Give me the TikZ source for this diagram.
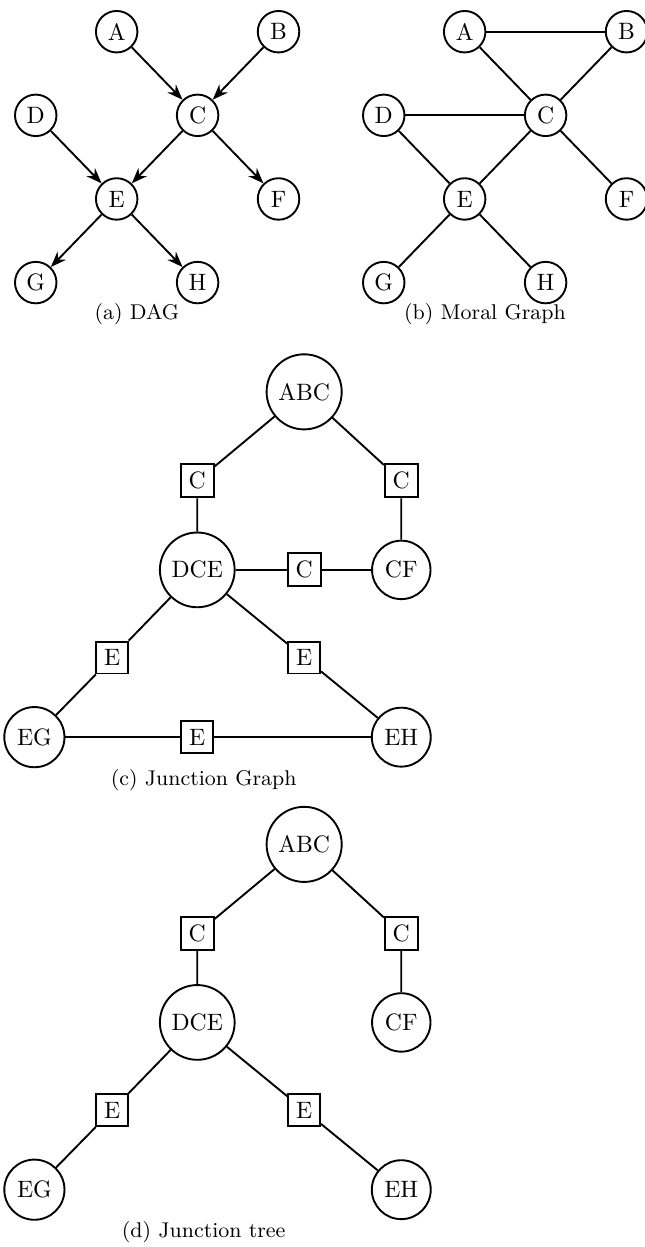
\documentclass[tikz,border=0pt]{standalone}
\usetikzlibrary{arrows.meta}

\begin{document}
\begin{tikzpicture}[thick,
    var/.style={draw,circle,inner sep=1.5pt,minimum size=17.5pt},
    clique/.style={draw,circle},
    sepbox/.style={draw,rectangle},
    subcap/.style={font=\small,anchor=base}]
  \useasboundingbox (0,0) rectangle (9.563,-18.49);

  % (a) DAG
  \node[var] (a) at (1.73,-0.47) {A};
  \node[var] (b) at (4.13,-0.47) {B};
  \node[var] (c) at (2.93,-1.71) {C};
  \node[var] (d) at (0.53,-1.71) {D};
  \node[var] (e) at (1.73,-2.95) {E};
  \node[var] (f) at (4.13,-2.95) {F};
  \node[var] (g) at (0.53,-4.19) {G};
  \node[var] (h) at (2.93,-4.19) {H};
  \draw[-{Stealth}] (a)--(c);
  \draw[-{Stealth}] (b)--(c);
  \draw[-{Stealth}] (d)--(e);
  \draw[-{Stealth}] (c)--(e);
  \draw[-{Stealth}] (c)--(f);
  \draw[-{Stealth}] (e)--(g);
  \draw[-{Stealth}] (e)--(h);
  \node[subcap] (capa) at (2.03,-4.73) {(a) DAG};

  % (b) moral graph
  \node[var] (ma) at (6.89,-0.47) {A};
  \node[var] (mb) at (9.29,-0.47) {B};
  \node[var] (mc) at (8.09,-1.71) {C};
  \node[var] (md) at (5.69,-1.71) {D};
  \node[var] (me) at (6.89,-2.95) {E};
  \node[var] (mf) at (9.29,-2.95) {F};
  \node[var] (mg) at (5.69,-4.19) {G};
  \node[var] (mh) at (8.09,-4.19) {H};
  \draw (ma)--(mb);
  \draw (ma)--(mc);
  \draw (mb)--(mc);
  \draw (md)--(mc);
  \draw (md)--(me);
  \draw (mc)--(me);
  \draw (mc)--(mf);
  \draw (me)--(mg);
  \draw (me)--(mh);
  \node[subcap] (capb) at (7.19,-4.73) {(b) Moral Graph};

  % (c) junction graph
  \node[clique] (jabc) at (4.51,-5.81) {ABC};
  \node[clique] (jdce) at (2.925,-8.45) {DCE};
  \node[clique] (jcf) at (5.95,-8.45) {CF};
  \node[clique] (jeg) at (0.51,-10.93) {EG};
  \node[clique] (jeh) at (5.95,-10.93) {EH};
  \node[sepbox] (jc1) at (2.925,-7.13) {C};
  \node[sepbox] (jc2) at (5.95,-7.13) {C};
  \node[sepbox] (jc3) at (4.51,-8.45) {C};
  \node[sepbox] (je1) at (1.665,-9.75) {E};
  \node[sepbox] (je2) at (4.51,-9.75) {E};
  \node[sepbox] (je3) at (2.925,-10.93) {E};
  \draw (jabc)--(jc1)--(jdce);
  \draw (jabc)--(jc2)--(jcf);
  \draw (jdce)--(jc3)--(jcf);
  \draw (jdce)--(je1)--(jeg);
  \draw (jdce)--(je2)--(jeh);
  \draw (jeg)--(je3)--(jeh);
  \node[subcap] (capc) at (3.02,-11.64) {(c) Junction Graph};

  % (d) junction tree
  \node[clique] (tabc) at (4.51,-12.52) {ABC};
  \node[clique] (tdce) at (2.925,-15.16) {DCE};
  \node[clique] (tcf) at (5.95,-15.16) {CF};
  \node[clique] (teg) at (0.51,-17.64) {EG};
  \node[clique] (teh) at (5.95,-17.64) {EH};
  \node[sepbox] (tc1) at (2.925,-13.84) {C};
  \node[sepbox] (tc2) at (5.95,-13.84) {C};
  \node[sepbox] (te1) at (1.665,-16.46) {E};
  \node[sepbox] (te2) at (4.51,-16.46) {E};
  \draw (tabc)--(tc1)--(tdce);
  \draw (tabc)--(tc2)--(tcf);
  \draw (tdce)--(te1)--(teg);
  \draw (tdce)--(te2)--(teh);
  \node[subcap] (capd) at (3.02,-18.35) {(d) Junction tree};
\end{tikzpicture}
\end{document}
